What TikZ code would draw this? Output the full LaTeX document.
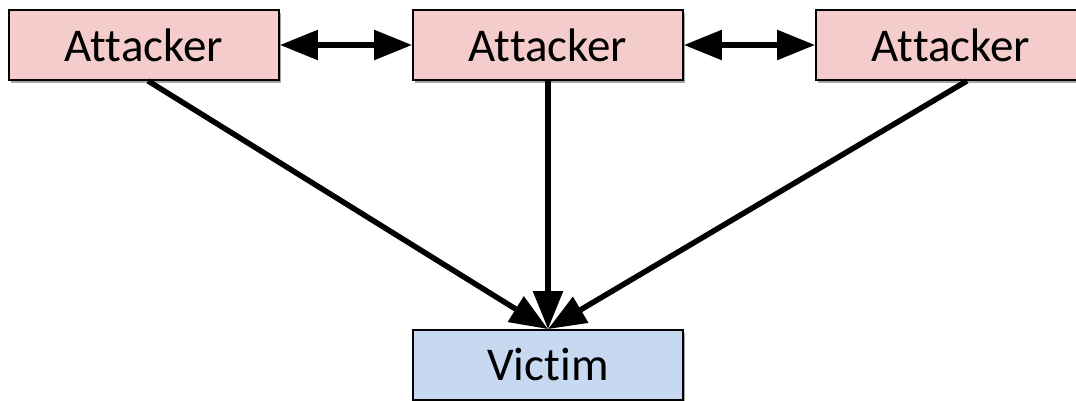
\documentclass[tikz,border=0pt]{standalone}
\usepackage{fontspec}
\setmainfont{Carlito}[Ligatures=NoCommon]
\usetikzlibrary{arrows.meta,shadows,calc}
\definecolor{attackfill}{RGB}{244,204,204}
\definecolor{victimfill}{RGB}{198,217,241}
\begin{document}
\begin{tikzpicture}[x=1pt,y=-1pt,
  box/.style={draw=black,line width=1.8pt,minimum width=270pt,minimum height=70pt,
    inner sep=0pt,font=\fontsize{47}{56}\selectfont,
    drop shadow={shadow xshift=2pt,shadow yshift=-3pt,opacity=0.35,fill=black}},
  attacker/.style={box,fill=attackfill},
  victim/.style={box,fill=victimfill},
  link/.style={line width=5.5pt,{Triangle[length=38pt,width=29pt]}-{Triangle[length=38pt,width=29pt]}},
  hit/.style={line width=5.5pt,-{Triangle[length=38pt,width=29pt]}}]
  \useasboundingbox (0,0) rectangle (1076,401);
  \begin{scope}
    \clip (0,0) rectangle (1076,401);
    \node[attacker] (a1) at (144,45) {Attacker};
    \node[attacker] (a2) at (548,45) {Attacker};
    \node[attacker] (a3) at (951,45) {Attacker};
    \node[victim] (v) at (548,365) {Victim};
    \draw[link] (a1.east) -- (a2.west);
    \draw[link] (a2.east) -- (a3.west);
    \draw[hit] ($(a1.south)+(4,0)$) -- (v.north);
    \draw[hit] (a2.south) -- (v.north);
    \draw[hit] ($(a3.south)+(16,0)$) -- (v.north);
  \end{scope}
\end{tikzpicture}
\end{document}
